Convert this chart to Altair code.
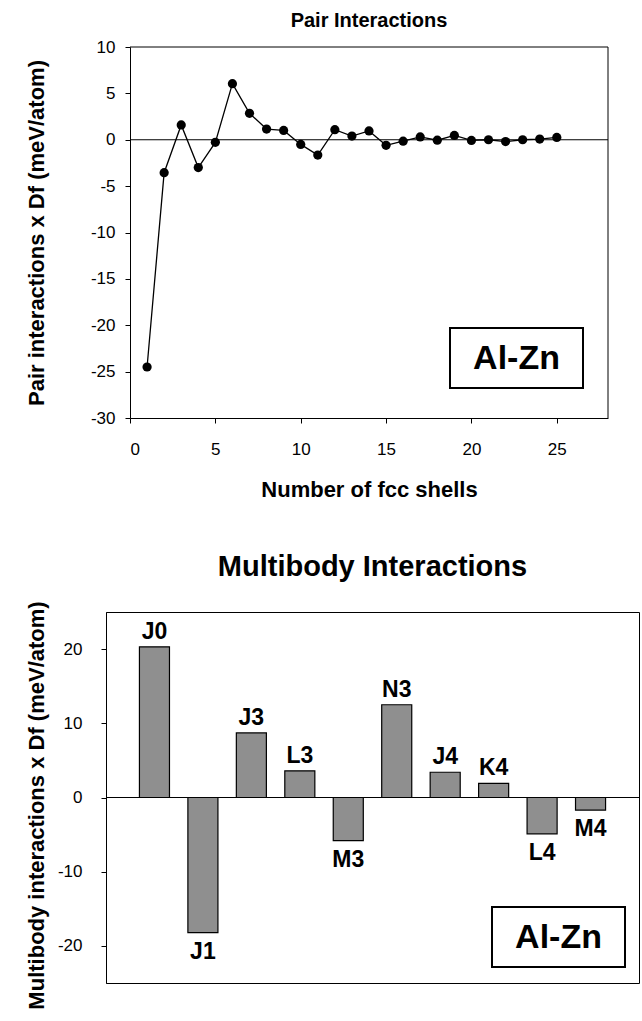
import altair as alt
import pandas as pd

# ---- data ----
shells = list(range(1, 26))
pair_values = [-24.5, -3.55, 1.6, -3.0, -0.28, 6.05, 2.85, 1.15, 1.0, -0.5,
               -1.65, 1.08, 0.4, 0.95, -0.6, -0.15, 0.3, -0.05, 0.47, -0.07,
               0.0, -0.2, 0.0, 0.07, 0.25]
x_ticks_top = [0, 5, 10, 15, 20, 25]
y_ticks_top = [-30, -25, -20, -15, -10, -5, 0, 5, 10]
x_domain_top = [0, 28]
y_domain_top = [-30, 10]

clusters = ["J0", "J1", "J3", "L3", "M3", "N3", "J4", "K4", "L4", "M4"]
multibody_values = [20.3, -18.2, 8.7, 3.6, -5.8, 12.5, 3.4, 1.9, -4.9, -1.7]
y_ticks_bottom = [-20, -10, 0, 10, 20]
y_domain_bottom = [-25, 25]

system_label = ["Al-Zn"]

FONT = "Liberation Sans"
HYPHEN_LABEL = "'' + datum.value"

pair_df = pd.DataFrame({"shell": shells, "value": pair_values})
mb_df = pd.DataFrame({"cluster": clusters, "value": multibody_values})
lab_df = pd.DataFrame({"t": system_label})

# ---------------- top chart ----------------
# plot group is 502 px wide; the x range starts 24 px in, and the y axis is
# moved in by the same amount, so the top panel sits right of the lower one
xs_top = alt.Scale(domain=x_domain_top, nice=False, range=[24, 502])
ys_top = alt.Scale(domain=y_domain_top, nice=False)

x_top = alt.X("shell:Q", scale=xs_top,
              axis=alt.Axis(values=x_ticks_top, title="Number of fcc shells",
                            grid=False, labelPadding=18, titlePadding=22,
                            labelExpr=HYPHEN_LABEL))
y_top = alt.Y("value:Q", scale=ys_top,
              axis=alt.Axis(values=y_ticks_top, offset=-24,
                            title="Pair interactions x Df  (meV/atom)",
                            grid=False, labelPadding=10, titlePadding=42,
                            labelExpr=HYPHEN_LABEL))

zero_top = alt.Chart(lab_df).mark_rule(color="black", strokeWidth=1).encode(
    y=alt.datum(0, scale=ys_top), x=alt.datum(x_domain_top[0], scale=xs_top),
    x2=alt.datum(x_domain_top[1]))
frame_top = alt.Chart(lab_df).mark_rule(color="black", strokeWidth=1).encode(
    y=alt.datum(y_domain_top[1]), x=alt.datum(x_domain_top[0]),
    x2=alt.datum(x_domain_top[1]))
frame_right = alt.Chart(lab_df).mark_rule(color="black", strokeWidth=1).encode(
    x=alt.datum(x_domain_top[1]), y=alt.datum(y_domain_top[0]),
    y2=alt.datum(y_domain_top[1]))
line = alt.Chart(pair_df).mark_line(color="black", strokeWidth=1.3).encode(
    x=x_top, y=y_top)
points = alt.Chart(pair_df).mark_point(filled=True, color="black", size=85,
                                       opacity=1).encode(x="shell:Q", y="value:Q")
box_top = alt.Chart(lab_df).mark_rect(fill="white", stroke="black",
                                      strokeWidth=2).encode(
    x=alt.value(344), x2=alt.value(477), y=alt.value(281), y2=alt.value(341))
text_top = alt.Chart(lab_df).mark_text(font=FONT, fontSize=34, fontWeight="bold",
                                       baseline="middle", align="center",
                                       color="black").encode(
    x=alt.value(410.5), y=alt.value(312), text="t:N")

top = alt.layer(line, zero_top, frame_top, frame_right, points, box_top,
                text_top).properties(
    width=502, height=371,
    view=alt.ViewBackground(stroke="transparent"),
    title=alt.TitleParams("Pair Interactions", fontSize=20, fontWeight="bold",
                          font=FONT, offset=7, anchor="middle", color="black",
                          dx=12))

# ---------------- bottom chart ----------------
x_b = alt.X("cluster:N", sort=None,
            scale=alt.Scale(paddingInner=0.38, paddingOuter=0.69), axis=None)
ys_b = alt.Scale(domain=y_domain_bottom, nice=False)
y_b = alt.Y("value:Q", scale=ys_b,
            axis=alt.Axis(values=y_ticks_bottom,
                          title="Multibody interactions x Df  (meV/atom)",
                          grid=False, labelPadding=19, titlePadding=9,
                          titleY=193, labelExpr=HYPHEN_LABEL))

zero_b = alt.Chart(lab_df).mark_rule(color="black", strokeWidth=1).encode(
    y=alt.datum(0, scale=ys_b))
bars = alt.Chart(mb_df).mark_bar(fill="#8f8f8f", stroke="black",
                                 strokeWidth=1.2).encode(x=x_b, y=y_b)
lab_pos = alt.Chart(mb_df).transform_filter("datum.value > 0").mark_text(
    font=FONT, fontSize=23, fontWeight="bold", baseline="alphabetic", dy=-8,
    color="black").encode(x=x_b, y="value:Q", text="cluster:N")
lab_neg = alt.Chart(mb_df).transform_filter("datum.value < 0").mark_text(
    font=FONT, fontSize=23, fontWeight="bold", baseline="top", dy=8,
    color="black").encode(x=x_b, y="value:Q", text="cluster:N")
box_b = alt.Chart(lab_df).mark_rect(fill="white", stroke="black",
                                    strokeWidth=2).encode(
    x=alt.value(386), x2=alt.value(519), y=alt.value(295), y2=alt.value(355))
text_b = alt.Chart(lab_df).mark_text(font=FONT, fontSize=34, fontWeight="bold",
                                     baseline="middle", align="center",
                                     color="black").encode(
    x=alt.value(452.5), y=alt.value(326), text="t:N")

bottom = alt.layer(zero_b, bars, lab_pos, lab_neg, box_b, text_b).properties(
    width=533, height=371,
    view=alt.ViewBackground(stroke="black", strokeWidth=1),
    title=alt.TitleParams("Multibody Interactions", fontSize=29,
                          fontWeight="bold", font=FONT, offset=16,
                          anchor="middle", color="black"))

chart = alt.vconcat(top, bottom, spacing=51).configure(
    padding={"left": 24, "top": 10, "right": 0, "bottom": 0},
    font=FONT, background="white"
).configure_axis(
    labelFont=FONT, labelFontSize=17, labelColor="black",
    titleFont=FONT, titleFontSize=22, titleFontWeight="bold",
    titleColor="black", domainColor="black", tickColor="black",
    tickSize=5, domainWidth=1, tickWidth=1)

chart.save("out.html", embed_options={"renderer": "svg", "actions": False})
